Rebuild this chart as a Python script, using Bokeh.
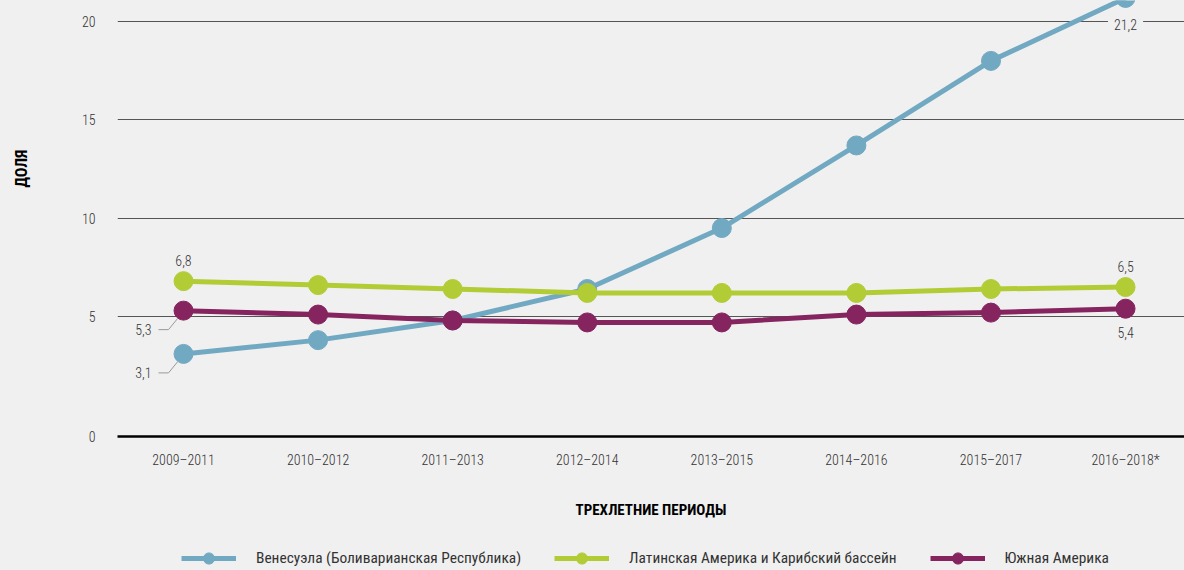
from bokeh.plotting import figure
from bokeh.layouts import column, row
from bokeh.models import (FixedTicker, CustomJSTickFormatter, Legend, LegendItem,
                          Label, Range1d, GlobalInlineStyleSheet)
from bokeh.embed import file_html
from bokeh.resources import INLINE

# ---------------- data ----------------
periods = ["2009–2011", "2010–2012", "2011–2013", "2012–2014",
           "2013–2015", "2014–2016", "2015–2017", "2016–2018*"]
venezuela = [3.1, 3.8, 4.8, 6.4, 9.5, 13.7, 18.0, 21.2]
latam = [6.8, 6.6, 6.4, 6.2, 6.2, 6.2, 6.4, 6.5]
south_am = [5.3, 5.1, 4.8, 4.7, 4.7, 5.1, 5.2, 5.4]
series_names = ["Венесуэла (Боливарианская Республика)",
                "Латинская Америка и Карибский бассейн",
                "Южная Америка"]
y_ticks = [5, 10, 15, 20]
y_label = "ДОЛЯ"
x_label = "ТРЕХЛЕТНИЕ ПЕРИОДЫ"

# ---------------- styles ----------------
FONT = "'Roboto Condensed Light', 'Roboto Condensed', sans-serif"
FONT_BOLD = "'Roboto Condensed', sans-serif"
LEGEND_FONT = "'Roboto Condensed', 'Liberation Sans Narrow', sans-serif"
BG = "#F0F0F0"
colors = ["#72A9C2", "#B2CC36", "#85245F"]
TXT = "#333333"

Y_BOTTOM = -1.10   # baseline position (labelled "0")
X_PX = 134.57      # pixels per x unit
Y_PX = 19.67       # pixels per y unit
STRIP_W = 40

def plain(fig):
    fig.background_fill_color = BG
    fig.border_fill_color = BG
    fig.outline_line_color = None

# ---------------- main chart ----------------
p = figure(width=1184 - STRIP_W, height=537, output_backend="svg", toolbar_location=None,
           x_range=Range1d(-0.4905, 7.438), y_range=Range1d(Y_BOTTOM, 21.07),
           min_border_left=117 - STRIP_W, min_border_right=0, min_border_top=0,
           min_border_bottom=101)
plain(p)

xs = list(range(len(periods)))

p.xaxis.ticker = FixedTicker(ticks=xs)
p.xaxis.major_label_overrides = {i: s for i, s in enumerate(periods)}
p.xaxis.axis_line_color = "black"
p.xaxis.axis_line_width = 2.5
p.xaxis.major_tick_line_color = None
p.xaxis.minor_tick_line_color = None
p.xaxis.major_tick_out = 0
p.xaxis.major_tick_in = 0
p.xaxis.major_label_standoff = 15
p.xaxis.major_label_text_font = FONT
p.xaxis.major_label_text_font_size = "14px"
p.xaxis.major_label_text_color = TXT
p.xaxis.axis_label = x_label
p.xaxis.axis_label_text_font = FONT_BOLD
p.xaxis.axis_label_text_font_style = "bold"
p.xaxis.axis_label_text_font_size = "15px"
p.xaxis.axis_label_text_color = "black"
p.xaxis.axis_label_standoff = 30

p.yaxis.ticker = FixedTicker(ticks=[Y_BOTTOM] + y_ticks)
p.yaxis.formatter = CustomJSTickFormatter(code="return tick < 0 ? '0' : tick.toFixed(0);")
p.yaxis.axis_line_color = None
p.yaxis.major_tick_line_color = None
p.yaxis.minor_tick_line_color = None
p.yaxis.major_tick_out = 0
p.yaxis.major_tick_in = 0
p.yaxis.major_label_standoff = 22
p.yaxis.major_label_text_font = FONT
p.yaxis.major_label_text_font_size = "14px"
p.yaxis.major_label_text_color = TXT

p.xgrid.grid_line_color = None
p.ygrid.ticker = FixedTicker(ticks=y_ticks)
p.ygrid.grid_line_color = "#555555"
p.ygrid.grid_line_width = 1

for ys, c in zip([venezuela, latam, south_am], colors):
    p.line(xs, ys, line_width=5, line_color=c, line_join="round")
    p.scatter(xs, ys, size=19, fill_color=c, line_color=c)

def fmt(v):
    return f"{v:.1f}".replace(".", ",")

def add_label(x, y, text, dx, dy, align="center", bg=None):
    kw = {}
    if bg is not None:
        kw = dict(background_fill_color=bg, padding=6)
    p.add_layout(Label(x=x, y=y, text=text, x_offset=dx, y_offset=dy,
                       text_align=align, text_baseline="middle",
                       text_font=FONT, text_font_size="14px",
                       text_color=TXT, **kw))

last = len(periods) - 1
add_label(0, latam[0], fmt(latam[0]), 0, 21)
add_label(0, south_am[0], fmt(south_am[0]), -32, -19, align="right")
add_label(0, venezuela[0], fmt(venezuela[0]), -32, -19, align="right")
add_label(last, latam[last], fmt(latam[last]), 0, 21)
add_label(last, south_am[last], fmt(south_am[last]), 0, -24)
add_label(last, venezuela[last], fmt(venezuela[last]), 0, -27, bg=BG)

for v in (south_am[0], venezuela[0]):
    lx = [0 - 25 / X_PX, 0 - 15 / X_PX, 0 - 6 / X_PX]
    ly = [v - 19 / Y_PX, v - 19 / Y_PX, v - 8 / Y_PX]
    p.line(lx, ly, line_color="#999999", line_width=1, level="underlay")

# ---------------- y title strip ----------------
ps = figure(width=STRIP_W, height=570, output_backend="svg", toolbar_location=None,
            x_range=Range1d(0, 1), y_range=Range1d(0, 1),
            x_axis_type=None, y_axis_type=None,
            min_border_left=0, min_border_right=0, min_border_top=0, min_border_bottom=0)
plain(ps)
ps.xgrid.grid_line_color = None
ps.ygrid.grid_line_color = None
ps.add_layout(Label(x=21, y=570 - 168, x_units="screen", y_units="screen", text=y_label,
                    angle=1.5708, text_align="center", text_baseline="middle",
                    text_font=FONT_BOLD, text_font_style="bold", text_font_size="16px",
                    text_color="black"))

# ---------------- legend strip ----------------
pl = figure(width=1184 - STRIP_W, height=33, output_backend="svg", toolbar_location=None,
            x_range=Range1d(0, 1), y_range=Range1d(0, 1),
            x_axis_type=None, y_axis_type=None,
            min_border_left=0, min_border_right=0, min_border_top=0, min_border_bottom=0)
plain(pl)
pl.xgrid.grid_line_color = None
pl.ygrid.grid_line_color = None

items = []
for name, c in zip(series_names, colors):
    # a single off-screen point so the legend swatch is drawn
    lr = pl.line([-5, -4], [-5, -5], line_width=5, line_color=c)
    sr = pl.scatter([-5], [-5], size=19, fill_color=c, line_color=c)
    items.append(LegendItem(label=name, renderers=[lr, sr]))

legend = Legend(items=items, orientation="horizontal", location=(64, -2),
                glyph_width=55, glyph_height=28, label_height=28,
                label_standoff=20, spacing=33, padding=0, margin=0,
                background_fill_alpha=0, border_line_color=None,
                label_text_font=LEGEND_FONT, label_text_font_size="15.4px",
                label_text_color=TXT)
pl.add_layout(legend, "center")

layout = row(ps, column(p, pl, spacing=0), spacing=0)
layout.stylesheets = [GlobalInlineStyleSheet(css="body { background-color: #F0F0F0; }")]
open("out.html", "w").write(file_html(layout, INLINE))
